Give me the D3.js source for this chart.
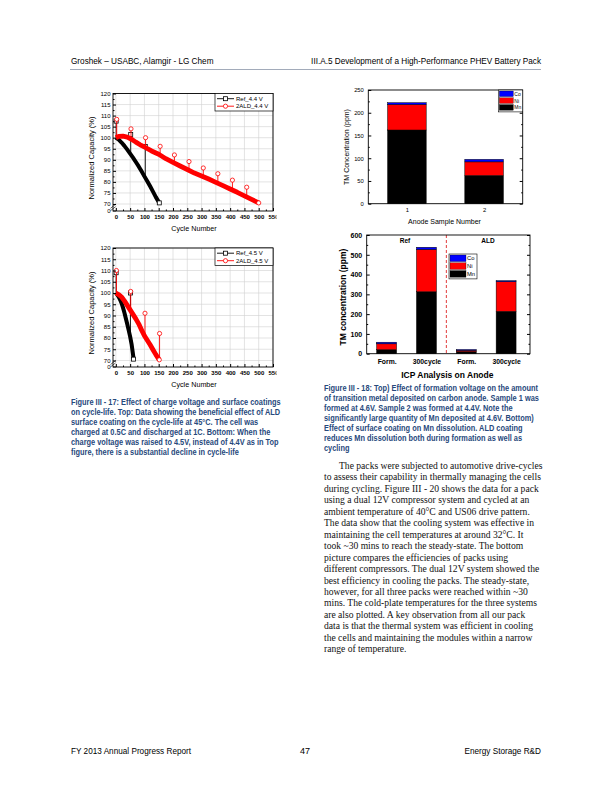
<!DOCTYPE html>
<html>
<head>
<meta charset="utf-8">
<script src="https://cdn.jsdelivr.net/npm/d3@7"></script>
<style>
  body { margin: 0; background: #fff; }
  svg { display: block; }
</style>
</head>
<body>
<div id="page"></div>
<script>
// Figure III-17: cycle-life, [cycle, normalized capacity %]
const cycleTicks = [0, 50, 100, 150, 200, 250, 300, 350, 400, 450, 500, 550];
const capTicks = [70, 75, 80, 85, 90, 95, 100, 105, 110, 115, 120];

const ref44 = [[0,100],[10,99.1],[20,97.8],[30,96.3],[40,94.6],[50,92.8],[60,91],[70,89],[80,87],[90,84.8],[100,82.5],[110,80.3],[120,78],[130,75.6],[140,73.1],[152,70.5]];
const ald44 = [[0,100],[10,100.6],[25,100.7],[40,100.3],[55,99.3],[70,98],[85,96.8],[100,95.8],[125,94],[150,92.5],[175,90.5],[200,88.8],[225,87.2],[250,85.6],[275,84],[300,82.7],[325,81.3],[350,79.8],[375,78.3],[400,76.8],[425,75.3],[450,73.7],[475,72.1],[500,70.5]];
// periodic check-up spikes: [cycle, from, to]
const ref44Rpt = [[1,100,107.5],[52,92.5,101.5],[103,82,96]];
const ald44Rpt = [[3,100.6,108.3],[53,99.4,104],[104,95.5,100],[155,92.1,96.1],[205,88.5,92.2],[256,85.3,89.2],[306,82.4,86.3],[357,79.4,83.7],[408,76.3,80.8],[458,73.2,77.6]];

const ref45 = [[0,100],[5,99.3],[10,98.3],[15,97],[20,95.5],[25,93.5],[30,91.2],[35,88.7],[40,86.1],[45,83.4],[50,80.6],[55,77.3],[60,72.8],[62,70.6]];
const ald45 = [[0,100],[10,99.3],[20,98.2],[30,96.5],[40,94.5],[50,92.5],[60,90.5],[70,88.5],[80,86.3],[90,83.6],[100,81],[110,79],[120,77],[130,74.8],[140,72.6],[152,70.3]];
const ref45Rpt = [[1,100,109],[51,80.4,100]];
const ald45Rpt = [[2,100,110],[52,92.1,100.7],[102,80.6,91],[153,70.3,82]];

// Figure III-18 top: TM on anode (ppm)
const anodeSamples = [1, 2];
const anodeMn = [162, 62];
const anodeNi = [56, 30];
const anodeCo = [4, 5.5];
const anodeTicks = [0, 50, 100, 150, 200, 250];

// Figure III-18 bottom: ICP analysis
const icpGroups = ["Form.", "300cycle", "Form.", "300cycle"];
const icpMn = [20, 313, 10, 214];
const icpNi = [30, 214, 7, 150];
const icpCo = [8, 11, 4, 5];
const icpTicks = [0, 100, 200, 300, 400, 500, 600];

const tmKeys = ["Mn", "Ni", "Co"];
const tmColors = { Mn: "#000000", Ni: "#ff0000", Co: "#0000ff" };

const captionLeft = [
  "Figure III - 17: Effect of charge voltage and surface coatings",
  "on cycle-life. Top: Data showing the beneficial effect of ALD",
  "surface coating on the cycle-life at 45°C. The cell was",
  "charged at 0.5C and discharged at 1C. Bottom: When the",
  "charge voltage was raised to 4.5V, instead of 4.4V as in Top",
  "figure, there is a substantial decline in cycle-life"
];
const captionRight = [
  "Figure III - 18: Top) Effect of formation voltage on the amount",
  "of transition metal deposited on carbon anode. Sample 1 was",
  "formed at 4.6V. Sample 2 was formed at 4.4V. Note the",
  "significantly large quantity of Mn deposited at 4.6V. Bottom)",
  "Effect of surface coating on Mn dissolution. ALD coating",
  "reduces Mn dissolution both during formation as well as",
  "cycling"
];
const bodyLines = [
  "The packs were subjected to automotive drive-cycles",
  "to assess their capability in thermally managing the cells",
  "during cycling. Figure III - 20 shows the data for a pack",
  "using a dual 12V compressor system and cycled at an",
  "ambient temperature of 40°C and US06 drive pattern.",
  "The data show that the cooling system was effective in",
  "maintaining the cell temperatures at around 32°C. It",
  "took ~30 mins to reach the steady-state. The bottom",
  "picture compares the efficiencies of packs using",
  "different compressors. The dual 12V system showed the",
  "best efficiency in cooling the packs. The steady-state,",
  "however, for all three packs were reached within ~30",
  "mins. The cold-plate temperatures for the three systems",
  "are also plotted. A key observation from all our pack",
  "data is that the thermal system was efficient in cooling",
  "the cells and maintaining the modules within a narrow",
  "range of temperature."
];

const SANS = "'Liberation Sans', Arial, Helvetica, sans-serif";
const SERIF = "'Liberation Serif', 'Times New Roman', serif";
const CAPTION_BLUE = "#27497c";

const svg = d3.select("#page").append("svg")
  .attr("width", 612)
  .attr("height", 792);

svg.append("rect").attr("width", 612).attr("height", 792).attr("fill", "#fff");

svg.append("defs").append("clipPath").attr("id", "clip-left")
  .append("rect").attr("x", 0).attr("y", 0).attr("width", 276.5).attr("height", 792);

// squeeze a text to a fraction of its natural width (narrow report fonts)
function squeeze(sel, factor) {
  sel.each(function() {
    const w = this.getComputedTextLength();
    d3.select(this).attr("textLength", w * factor).attr("lengthAdjust", "spacingAndGlyphs");
  });
}

function drawMarkers(g, pts, shape, color, x, y) {
  if (shape === "square") {
    g.append("g").selectAll("rect").data(pts).join("rect")
      .attr("x", d => x(d[0]) - 2)
      .attr("y", d => y(d[1]) - 2)
      .attr("width", 4)
      .attr("height", 4)
      .attr("fill", "#fff")
      .attr("stroke", color)
      .attr("stroke-width", 0.8);
  } else {
    g.append("g").selectAll("circle").data(pts).join("circle")
      .attr("cx", d => x(d[0]))
      .attr("cy", d => y(d[1]))
      .attr("r", 2.1)
      .attr("fill", "#fff")
      .attr("stroke", color)
      .attr("stroke-width", 0.8);
  }
}

// ---------- cycle-life charts ----------
function drawCycleChart(cfg) {
  const x = d3.scaleLinear().domain([-10, 550]).range([113, 273]);
  const y = d3.scaleLinear().domain([70, 120]).range([cfg.y70, cfg.top]);
  const [x0, x1] = x.range();
  const g = svg.append("g").attr("clip-path", "url(#clip-left)");

  // grid
  g.append("g").selectAll("line").data(cycleTicks).join("line")
    .attr("x1", d => x(d)).attr("x2", d => x(d))
    .attr("y1", cfg.top).attr("y2", cfg.bottom)
    .attr("stroke", "#d0d0d0").attr("stroke-width", 0.6);
  g.append("g").selectAll("line").data(capTicks).join("line")
    .attr("x1", x0).attr("x2", x1)
    .attr("y1", d => y(d)).attr("y2", d => y(d))
    .attr("stroke", "#d0d0d0").attr("stroke-width", 0.6);

  const line = d3.line().x(d => x(d[0])).y(d => y(d[1]));

  cfg.series.forEach(s => {
    g.append("g").selectAll("line").data(s.rpt).join("line")
      .attr("x1", d => x(d[0])).attr("x2", d => x(d[0]))
      .attr("y1", d => y(d[1])).attr("y2", d => y(d[2]))
      .attr("stroke", s.color).attr("stroke-width", 0.9);
    g.append("path").datum(s.trend)
      .attr("d", line)
      .attr("fill", "none")
      .attr("stroke", s.color)
      .attr("stroke-width", s.band)
      .attr("stroke-linejoin", "round");
    const last = s.trend[s.trend.length - 1];
    drawMarkers(g, s.rpt.map(d => [d[0], d[2]]).concat([last]), s.shape, s.color, x, y);
  });

  // frame
  g.append("rect")
    .attr("x", x0).attr("y", cfg.top)
    .attr("width", x1 - x0).attr("height", cfg.bottom - cfg.top)
    .attr("fill", "none").attr("stroke", "#000").attr("stroke-width", 0.9);

  // axes (ticks inside)
  const xAxis = g.append("g").attr("transform", `translate(0,${cfg.bottom})`)
    .call(d3.axisBottom(x).tickValues(cycleTicks).tickSize(-3).tickSizeOuter(0).tickPadding(4));
  xAxis.attr("font-family", SANS).attr("font-size", 6).attr("font-weight", "bold");
  xAxis.select(".domain").remove();
  const xMinor = g.append("g").attr("transform", `translate(0,${cfg.bottom})`)
    .call(d3.axisBottom(x).tickValues(d3.range(25, 550, 50)).tickSize(-1.5).tickFormat(""));
  xMinor.select(".domain").remove();

  const yAxis = g.append("g").attr("transform", `translate(${x0},0)`)
    .call(d3.axisLeft(y).tickValues(capTicks).tickSize(-3).tickSizeOuter(0).tickPadding(2.5));
  yAxis.attr("font-family", SANS).attr("font-size", 6);
  yAxis.select(".domain").remove();
  const yMinor = g.append("g").attr("transform", `translate(${x0},0)`)
    .call(d3.axisLeft(y).tickValues(d3.range(72.5, 120, 5)).tickSize(-1.5).tickFormat(""));
  yMinor.select(".domain").remove();

  // the axis jumps from 70 down to 0
  g.append("line").attr("x1", x0).attr("x2", x0 + 3).attr("y1", cfg.bottom).attr("y2", cfg.bottom)
    .attr("stroke", "#000").attr("stroke-width", 0.8);
  g.append("text").attr("x", x0 - 2.5).attr("y", cfg.bottom + 2)
    .attr("text-anchor", "end").attr("font-family", SANS).attr("font-size", 6).text("0");
  const mid = (cfg.y70 + cfg.bottom) / 2;
  [-1.2, 1.2].forEach(o => {
    g.append("line")
      .attr("x1", x0 - 2.5).attr("y1", mid + 2 + o)
      .attr("x2", x0 + 2.5).attr("y2", mid - 2 + o)
      .attr("stroke", "#000").attr("stroke-width", 0.6);
  });

  // legend
  const lx = 215, ly = cfg.top;
  g.append("rect").attr("x", lx).attr("y", ly).attr("width", x1 - lx).attr("height", 17.5)
    .attr("fill", "#fff").attr("stroke", "#000").attr("stroke-width", 0.7);
  cfg.series.forEach((s, i) => {
    const yy = ly + 5.2 + i * 7.5;
    g.append("line").attr("x1", lx + 2).attr("x2", lx + 19).attr("y1", yy).attr("y2", yy)
      .attr("stroke", s.color).attr("stroke-width", 0.9);
    drawMarkers(g, [[lx + 10.5, yy]], s.shape, s.color, d => d, d => d);
    g.append("text").attr("x", lx + 21).attr("y", yy + 2.1)
      .attr("font-family", SANS).attr("font-size", 6).text(s.name);
  });

  // titles
  svg.append("text")
    .attr("transform", `translate(93.5,${cfg.titleY}) rotate(-90)`)
    .attr("text-anchor", "middle").attr("font-family", SANS).attr("font-size", 7.5)
    .text("Normalized Capacity (%)");
  svg.append("text")
    .attr("x", 194).attr("y", cfg.bottom + 20)
    .attr("text-anchor", "middle").attr("font-family", SANS).attr("font-size", 7.2)
    .text("Cycle Number");
}

drawCycleChart({
  top: 93.5, y70: 204, bottom: 211, titleY: 158,
  series: [
    { name: "Ref_4.4 V", trend: ref44, rpt: ref44Rpt, color: "#000", shape: "square", band: 4 },
    { name: "2ALD_4.4 V", trend: ald44, rpt: ald44Rpt, color: "#ff0000", shape: "circle", band: 4.8 }
  ]
});

drawCycleChart({
  top: 248, y70: 360.5, bottom: 367, titleY: 313,
  series: [
    { name: "Ref_4.5 V", trend: ref45, rpt: ref45Rpt, color: "#000", shape: "square", band: 4 },
    { name: "2ALD_4.5 V", trend: ald45, rpt: ald45Rpt, color: "#ff0000", shape: "circle", band: 4.8 }
  ]
});

// ---------- stacked TM bars ----------
function drawStackChart(cfg) {
  const x = d3.scaleLinear().domain(cfg.xDomain).range(cfg.xRange);
  const y = d3.scaleLinear().domain([0, cfg.yMax]).range(cfg.yRange);
  const [x0, x1] = cfg.xRange;
  const [yb, yt] = cfg.yRange;
  const g = svg.append("g");

  const rows = cfg.mn.map((v, i) => ({ pos: i + 1, Mn: v, Ni: cfg.ni[i], Co: cfg.co[i] }));
  const stacked = d3.stack().keys(tmKeys)(rows);

  g.append("g").selectAll("g").data(stacked).join("g")
    .attr("fill", d => tmColors[d.key])
    .selectAll("rect").data(d => d).join("rect")
    .attr("x", d => x(d.data.pos - 0.25))
    .attr("width", d => x(d.data.pos + 0.25) - x(d.data.pos - 0.25))
    .attr("y", d => y(d[1]))
    .attr("height", d => y(d[0]) - y(d[1]))
    .attr("stroke", "#000")
    .attr("stroke-width", 0.5);

  if (cfg.divider) {
    g.append("line")
      .attr("x1", x(cfg.divider)).attr("x2", x(cfg.divider))
      .attr("y1", yt).attr("y2", yb)
      .attr("stroke", "#e23b3b").attr("stroke-width", 1).attr("stroke-dasharray", "3,2");
  }

  g.append("rect").attr("x", x0).attr("y", yt).attr("width", x1 - x0).attr("height", yb - yt)
    .attr("fill", "none").attr("stroke", "#000").attr("stroke-width", 0.9);

  const weight = cfg.bold ? "bold" : "normal";
  const yAxis = g.append("g").attr("transform", `translate(${x0},0)`)
    .call(d3.axisLeft(y).tickValues(cfg.yTicks).tickSize(-3).tickSizeOuter(0).tickPadding(4.5));
  yAxis.attr("font-family", SANS).attr("font-size", cfg.tickFont).attr("font-weight", weight);
  yAxis.select(".domain").remove();
  const step = cfg.yTicks[1] - cfg.yTicks[0];
  const minor = d3.range(step / 2, cfg.yMax, step);
  g.append("g").attr("transform", `translate(${x0},0)`)
    .call(d3.axisLeft(y).tickValues(minor).tickSize(-1.5).tickFormat(""))
    .select(".domain").remove();
  g.append("g").attr("transform", `translate(${x1},0)`)
    .call(d3.axisRight(y).tickValues(cfg.yTicks).tickSize(-3).tickFormat(""))
    .select(".domain").remove();
  g.append("g").attr("transform", `translate(${x1},0)`)
    .call(d3.axisRight(y).tickValues(minor).tickSize(-1.5).tickFormat(""))
    .select(".domain").remove();

  const xAxis = g.append("g").attr("transform", `translate(0,${yb})`)
    .call(d3.axisBottom(x).tickValues(rows.map(r => r.pos)).tickSize(cfg.xTickSize)
      .tickPadding(cfg.xPad).tickFormat((d, i) => cfg.cats[i]));
  xAxis.attr("font-family", SANS).attr("font-size", cfg.catFont).attr("font-weight", weight);
  xAxis.select(".domain").remove();

  // legend
  const L = cfg.legend;
  g.append("rect").attr("x", L.x).attr("y", L.y).attr("width", L.w).attr("height", L.h * 3 + 1.5)
    .attr("fill", "#fff").attr("stroke", "#000").attr("stroke-width", 0.6);
  ["Co", "Ni", "Mn"].forEach((k, i) => {
    g.append("rect").attr("x", L.x + 1).attr("y", L.y + 1 + i * L.h)
      .attr("width", L.sw).attr("height", L.h - 1.2)
      .attr("fill", tmColors[k]).attr("stroke", "#000").attr("stroke-width", 0.3);
    g.append("text").attr("x", L.x + L.sw + 2).attr("y", L.y + 1 + i * L.h + L.h * 0.7)
      .attr("font-family", SANS).attr("font-size", L.font).text(k);
  });

  svg.append("text")
    .attr("transform", `translate(${cfg.yTitleX},${cfg.yTitleY}) rotate(-90)`)
    .attr("text-anchor", "middle").attr("font-family", SANS)
    .attr("font-size", cfg.titleFont).attr("font-weight", weight)
    .text(cfg.yTitle);
  svg.append("text")
    .attr("x", (x0 + x1) / 2 - 1).attr("y", cfg.xTitleY)
    .attr("text-anchor", "middle").attr("font-family", SANS)
    .attr("font-size", cfg.titleFont).attr("font-weight", weight)
    .text(cfg.xTitle);

  return { g, x, y };
}

drawStackChart({
  cats: anodeSamples.map(String), mn: anodeMn, ni: anodeNi, co: anodeCo,
  xDomain: [0.5, 2.5], xRange: [368.3, 522.7],
  yMax: 250, yRange: [203.7, 90], yTicks: anodeTicks,
  tickFont: 5.8, catFont: 5.8, titleFont: 7, bold: false,
  xTickSize: -3, xPad: 4.5,
  yTitle: "TM Concentration (ppm)", yTitleX: 349, yTitleY: 147,
  xTitle: "Anode Sample Number", xTitleY: 223.5,
  legend: { x: 498.3, y: 90, w: 24.4, h: 6.8, sw: 14, font: 5 }
});

const icp = drawStackChart({
  cats: icpGroups, mn: icpMn, ni: icpNi, co: icpCo,
  xDomain: [0.5, 4.6], xRange: [366.7, 530],
  yMax: 600, yRange: [353.7, 235], yTicks: icpTicks,
  tickFont: 7, catFont: 6.8, titleFont: 8.5, bold: true,
  xTickSize: 0, xPad: 5, divider: 2.5,
  yTitle: "TM concentration (ppm)", yTitleX: 346, yTitleY: 297,
  xTitle: "ICP Analysis on Anode", xTitleY: 377.5,
  legend: { x: 449, y: 254, w: 28, h: 7.8, sw: 16, font: 5.8 }
});

icp.g.append("text").attr("x", 405).attr("y", 243).attr("text-anchor", "middle")
  .attr("font-family", SANS).attr("font-size", 6.5).attr("font-weight", "bold").text("Ref");
icp.g.append("text").attr("x", 488).attr("y", 243).attr("text-anchor", "middle")
  .attr("font-family", SANS).attr("font-size", 6.5).attr("font-weight", "bold").text("ALD");

// ---------- page text ----------
svg.append("text").attr("x", 71).attr("y", 64)
  .attr("font-family", SANS).attr("font-size", 9).text("Groshek – USABC, Alamgir  - LG Chem")
  .call(squeeze, 0.91);
svg.append("text").attr("x", 541).attr("y", 64).attr("text-anchor", "end")
  .attr("font-family", SANS).attr("font-size", 9).text("III.A.5 Development of a High-Performance PHEV Battery Pack")
  .call(squeeze, 0.91);
svg.append("line").attr("x1", 70).attr("x2", 541).attr("y1", 69.5).attr("y2", 69.5)
  .attr("stroke", "#8a96a8").attr("stroke-width", 0.8);

svg.append("g").selectAll("text").data(captionLeft).join("text")
  .attr("x", 71).attr("y", (d, i) => 404.5 + i * 10)
  .attr("font-family", SANS).attr("font-size", 9).attr("font-weight", "bold")
  .attr("fill", CAPTION_BLUE).text(d => d)
  .call(squeeze, 0.82);

svg.append("g").selectAll("text").data(captionRight).join("text")
  .attr("x", 324).attr("y", (d, i) => 391 + i * 10)
  .attr("font-family", SANS).attr("font-size", 9).attr("font-weight", "bold")
  .attr("fill", CAPTION_BLUE).text(d => d)
  .call(squeeze, 0.82);

svg.append("g").selectAll("text").data(bodyLines).join("text")
  .attr("x", (d, i) => i === 0 ? 339 : 324)
  .attr("y", (d, i) => 469 + i * 11.45)
  .attr("font-family", SERIF).attr("font-size", 9.6).attr("fill", "#111")
  .text(d => d);

svg.append("text").attr("x", 71).attr("y", 754)
  .attr("font-family", SANS).attr("font-size", 9).text("FY 2013 Annual Progress Report")
  .call(squeeze, 0.91);
svg.append("text").attr("x", 305).attr("y", 754).attr("text-anchor", "middle")
  .attr("font-family", SANS).attr("font-size", 9).text("47");
svg.append("text").attr("x", 541).attr("y", 754).attr("text-anchor", "end")
  .attr("font-family", SANS).attr("font-size", 9).text("Energy Storage R&D")
  .call(squeeze, 0.91);
</script>
</body>
</html>
